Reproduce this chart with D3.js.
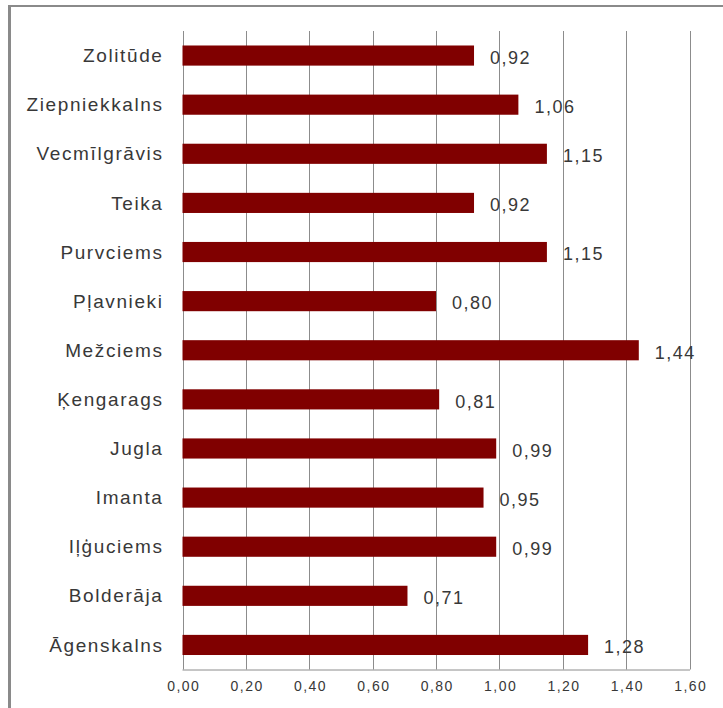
<!DOCTYPE html>
<html>
<head>
<meta charset="utf-8">
<script src="https://cdn.jsdelivr.net/npm/d3@7"></script>
<style>
  html, body { margin: 0; padding: 0; background: #fff; }
  svg { display: block; }
  text { font-family: "Liberation Sans", Arial, sans-serif; fill: #383838; }
</style>
</head>
<body>
<svg id="chart" width="723" height="708"></svg>
<script>
// Riga neighbourhoods, top to bottom as listed
const districts = ["Zolitūde", "Ziepniekkalns", "Vecmīlgrāvis", "Teika", "Purvciems",
  "Pļavnieki", "Mežciems", "Ķengarags", "Jugla", "Imanta", "Iļģuciems", "Bolderāja", "Āgenskalns"];
const values = [0.92, 1.06, 1.15, 0.92, 1.15, 0.80, 1.44, 0.81, 0.99, 0.95, 0.99, 0.71, 1.28];
const xTicks = [0, 0.2, 0.4, 0.6, 0.8, 1.0, 1.2, 1.4, 1.6];

const fmt = v => d3.format(".2f")(v).replace(".", ",");

const svg = d3.select("#chart");
const plot = { left: 182.5, right: 689.5, top: 31, bottom: 669.5 };

// outer frame (top and left edges)
svg.append("line").attr("x1", 8).attr("x2", 723).attr("y1", 6).attr("y2", 6)
  .attr("stroke", "#8a8a8a").attr("stroke-width", 2);
svg.append("line").attr("x1", 9.5).attr("x2", 9.5).attr("y1", 5).attr("y2", 708)
  .attr("stroke", "#8a8a8a").attr("stroke-width", 3);

const x = d3.scaleLinear().domain([0, 1.6]).range([plot.left, plot.right]);
const y = d3.scaleBand().domain(districts).range([plot.top, plot.bottom]).paddingInner(0.59).paddingOuter(0.295);

// vertical gridlines
svg.append("g").selectAll("line").data(xTicks).join("line")
  .attr("x1", d => Math.round(x(d)) + 0.5).attr("x2", d => Math.round(x(d)) + 0.5)
  .attr("y1", plot.top).attr("y2", plot.bottom)
  .attr("stroke", "#8c8c8c").attr("stroke-width", 1);

// bottom axis line and tick labels
const xAxis = d3.axisBottom(x).tickValues(xTicks).tickFormat(fmt).tickSize(0).tickPadding(12);
const gx = svg.append("g").attr("transform", `translate(0,${plot.bottom})`).call(xAxis);
gx.select(".domain").attr("stroke", "#8c8c8c").attr("d", `M${plot.left},0.5H${plot.right + 0.5}`);
gx.selectAll("text").attr("font-size", 14).attr("letter-spacing", 1.5)
  .attr("font-family", "Liberation Sans, Arial, sans-serif").attr("fill", "#383838")
  .attr("dx", 0.75);

// bars
svg.append("g").selectAll("rect").data(values).join("rect")
  .attr("x", x(0))
  .attr("y", (d, i) => y(districts[i]))
  .attr("width", d => x(d) - x(0))
  .attr("height", y.bandwidth())
  .attr("fill", "#800000");

// value labels
svg.append("g").selectAll("text").data(values).join("text")
  .attr("x", d => x(d) + 16)
  .attr("y", (d, i) => y(districts[i]) + y.bandwidth() / 2 + 2)
  .attr("dy", "0.35em")
  .attr("font-size", 18).attr("letter-spacing", 1.5)
  .text(d => fmt(d));

// category labels
svg.append("g").selectAll("text").data(districts).join("text")
  .attr("x", 163.5)
  .attr("y", d => y(d) + y.bandwidth() / 2)
  .attr("dy", "0.35em")
  .attr("text-anchor", "end")
  .attr("font-size", 19).attr("letter-spacing", 1.6)
  .text(d => d);
</script>
</body>
</html>
